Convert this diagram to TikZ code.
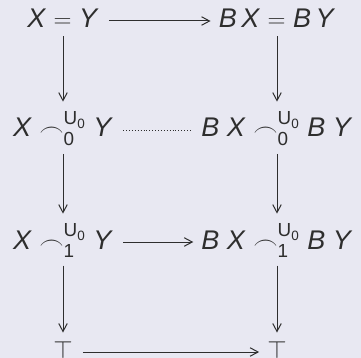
\documentclass[tikz,border=0pt]{standalone}
\usepackage{amsmath}
\usepackage{fontspec}
\setmainfont{Liberation Sans}
\usetikzlibrary{arrows.meta, math}

\definecolor{bgcol}{HTML}{E8E8F2}
\definecolor{inkcol}{HTML}{2E2E2E}
\newcommand{\mi}[1]{\textit{#1}}
\newcommand{\frownU}[1]{\;$\frown^{\text{U}_{\text{0}}}_{\text{#1}}$\;}

\tikzset{
  obj/.style={anchor=base, inner sep=0pt, text=inkcol, font=\fontsize{27}{32}\selectfont},
  cdarrow/.style={-{Straight Barb[length=8pt,width=8.5pt]}, line width=1pt, draw=inkcol},
  cddots/.style={dotted, line width=0.9pt, draw=inkcol},
}

\begin{document}
\begin{tikzpicture}[x=1pt, y=-1pt]
\tikzmath{
\xl=63; \xr=277;
\ax=7;
}
\fill[bgcol] (0,0) rectangle (361,358);
\useasboundingbox (0,0) rectangle (361,358);

\node[obj] (a1) at (\xl,28) {\mi{X} $=$ \mi{Y}};
\node[obj] (b1) at (\xr,28) {\mi{B\,X} $=$ \mi{B\,Y}};
\node[obj] (a2) at (\xl,137) {\mi{X}\frownU{0}\mi{Y}};
\node[obj] (b2) at (\xr,137) {\mi{B X}\frownU{0}\mi{B Y}};
\node[obj] (a3) at (\xl,249) {\mi{X}\frownU{1}\mi{Y}};
\node[obj] (b3) at (\xr,249) {\mi{B X}\frownU{1}\mi{B Y}};
\node[obj] (a4) at (\xl,358) {$\top$};
\node[obj] (b4) at (\xr,358) {$\top$};

% horizontal
\draw[cdarrow] ([xshift=10pt,yshift=\ax pt]a1.base east) -- ([xshift=-8pt,yshift=\ax pt]b1.base west);
\draw[cddots] ([xshift=10pt,yshift=\ax pt]a2.base east) -- ([xshift=-10pt,yshift=\ax pt]b2.base west);
\draw[cdarrow] ([xshift=10pt,yshift=\ax pt]a3.base east) -- ([xshift=-8pt,yshift=\ax pt]b3.base west);
\draw[cdarrow] ([xshift=10pt,yshift=6pt]a4.base east) -- ([xshift=-8pt,yshift=6pt]b4.base west);

% vertical
\draw[cdarrow] ([yshift=-8pt]a1.south) -- ([yshift=10pt]a2.north);
\draw[cdarrow] ([yshift=-8pt]b1.south) -- ([yshift=10pt]b2.north);
\draw[cdarrow] ([yshift=-8pt]a2.south) -- ([yshift=10pt]a3.north);
\draw[cdarrow] ([yshift=-8pt]b2.south) -- ([yshift=10pt]b3.north);
\draw[cdarrow] ([yshift=-8pt]a3.south) -- ([yshift=8pt]a4.north);
\draw[cdarrow] ([yshift=-8pt]b3.south) -- ([yshift=8pt]b4.north);
\end{tikzpicture}
\end{document}
